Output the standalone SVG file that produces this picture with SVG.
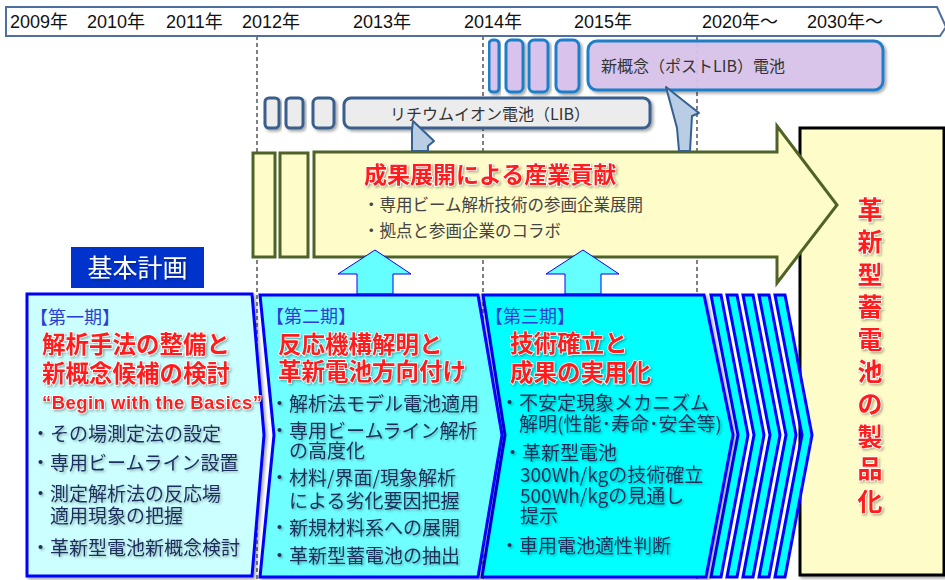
<svg xmlns="http://www.w3.org/2000/svg" width="945" height="580" viewBox="0 0 945 580">
<defs>
<filter id="sh" x="-10%" y="-10%" width="130%" height="130%"><feDropShadow dx="2" dy="2" stdDeviation="1.5" flood-color="#000" flood-opacity="0.35"/></filter>
<filter id="ts" x="-10%" y="-20%" width="130%" height="150%"><feDropShadow dx="1.5" dy="1.5" stdDeviation="1" flood-color="#000" flood-opacity="0.3"/></filter>
<style>
.yr{font-family:'Liberation Sans','Noto Sans CJK JP',sans-serif;font-size:18px;fill:#111}
.jp{font-family:'Noto Sans CJK JP',sans-serif}
.dash{stroke:#000;stroke-width:1;stroke-dasharray:4 3;fill:none}
.pur{fill:#d9c3ec;stroke:#1f7fc8;stroke-width:3;filter:url(#sh)}
.gry{fill:#ececec;stroke:#3b5e8c;stroke-width:3;filter:url(#sh)}
.call{fill:#b9cde5;stroke:#35608f;stroke-width:2;stroke-linejoin:round}
.yel{fill:#fefcc8;stroke:#4f6228;stroke-width:3}
.up{fill:#66ffff;stroke:#0000ff;stroke-width:1}
.box{stroke:#0000ff;stroke-width:3;filter:url(#sh)}
.stripe{fill:#00ffff;stroke:#0000ff;stroke-width:3}
.red{font-family:'Noto Sans CJK JP',sans-serif;font-weight:700;fill:#ff1f1f;stroke:#ffffff;stroke-width:1.5;paint-order:stroke;filter:url(#ts)}
.phase{font-family:'Noto Sans CJK JP',sans-serif;font-size:18px;fill:#2b3fd6}
.bul{font-family:'Noto Sans CJK JP',sans-serif;font-size:19px;fill:#1c2f5c;filter:url(#ts)}
.ytx{font-family:'Noto Sans CJK JP',sans-serif;font-size:16.5px;fill:#444}
</style>
</defs>

<g id="guides">
<line class="dash" x1="257" y1="36" x2="257" y2="580"/>
<line class="dash" x1="483" y1="36" x2="483" y2="580"/>
<line class="dash" x1="697" y1="36" x2="697" y2="580"/>
</g>

<g id="timeline">
<polygon points="6,7 937,7 946,27 940,36 6,36" fill="#fff" stroke="#4f6fa0" stroke-width="2"/>
<text class="yr" x="10" y="28">2009年</text>
<text class="yr" x="87" y="28">2010年</text>
<text class="yr" x="166" y="28">2011年</text>
<text class="yr" x="242" y="28">2012年</text>
<text class="yr" x="353" y="28">2013年</text>
<text class="yr" x="464" y="28">2014年</text>
<text class="yr" x="574" y="28">2015年</text>
<text class="yr" x="702" y="28">2020年～</text>
<text class="yr" x="807" y="28">2030年～</text>
</g>

<g id="post-lib">
<rect class="pur" x="489" y="40" width="10" height="52" rx="4"/>
<rect class="pur" x="506" y="40" width="17" height="52" rx="5"/>
<rect class="pur" x="529" y="40" width="19" height="52" rx="5"/>
<rect class="pur" x="556" y="40" width="23" height="52" rx="6"/>
<rect class="pur" x="588" y="41" width="295" height="49" rx="9" fill-opacity="0.93"/>
<text class="jp" x="601" y="72" font-size="16" fill="#333">新概念（ポストLIB）電池</text>
</g>

<g id="lib">
<rect class="gry" x="265" y="98" width="14" height="30" rx="4"/>
<rect class="gry" x="286" y="98" width="17" height="30" rx="4"/>
<rect class="gry" x="313" y="98" width="21" height="30" rx="5"/>
<rect class="gry" x="344" y="98" width="306" height="30" rx="7"/>
<text class="jp" x="390" y="120" font-size="16" fill="#333">リチウムイオン電池（LIB）</text>
</g>

<g id="product">
<rect x="800" y="128" width="144" height="447" fill="#fefcc8" stroke="#000" stroke-width="3" filter="url(#sh)"/>
<text class="red" font-size="25" text-anchor="middle"><tspan x="870" y="219">革</tspan><tspan x="870" dy="32.4">新</tspan><tspan x="870" dy="32.4">型</tspan><tspan x="870" dy="32.4">蓄</tspan><tspan x="870" dy="32.4">電</tspan><tspan x="870" dy="32.4">池</tspan><tspan x="870" dy="32.4">の</tspan><tspan x="870" dy="32.4">製</tspan><tspan x="870" dy="32.4">品</tspan><tspan x="870" dy="32.4">化</tspan></text>
</g>

<g id="industry">
<rect class="yel" x="253" y="153" width="22" height="104"/>
<rect class="yel" x="280" y="153" width="28" height="104"/>
<polygon class="yel" points="314,152 777,152 777,126 837,205 777,283 777,257 314,257"/>
<text class="red" x="364" y="183" font-size="23">成果展開による産業貢献</text>
<text class="ytx" x="363" y="211">・専用ビーム解析技術の参画企業展開</text>
<text class="ytx" x="363" y="237">・拠点と参画企業のコラボ</text>
</g>

<g id="connectors">
<polygon class="call" points="413,121 434,141 428,146 428,151 412,151 412,130"/>
<polygon class="call" points="666,87 699,113 692,116 690,151 679,151 677,128"/>
<polygon class="up" points="375,250 411,274 393,274 393,294 357,294 357,274 338,274"/>
<polygon class="up" points="583,250 619,274 601,274 601,294 565,294 565,274 546,274"/>
</g>

<g id="plan-label">
<rect x="71" y="247" width="133" height="41" fill="#0033cc"/>
<text class="jp" x="137.5" y="277" font-size="25" fill="#fff" text-anchor="middle" filter="url(#ts)">基本計画</text>
</g>

<g id="stripes">
<polygon class="stripe" points="775,295 785,295 812,435 785,577 775,577 802,435"/>
<polygon class="stripe" points="759,295 769,295 796,435 769,577 759,577 786,435"/>
<polygon class="stripe" points="743,295 753,295 780,435 753,577 743,577 770,435"/>
<polygon class="stripe" points="727,295 737,295 764,435 737,577 727,577 754,435"/>
<polygon class="stripe" points="711,295 721,295 748,435 721,577 711,577 738,435"/>
</g>

<g id="phase3">
<polygon class="box" fill="#00ffff" points="483,295 704,295 733,435 706,577 482,577 505,435"/>
<text class="phase" x="485" y="323">【第三期】</text>
<text class="red" font-size="23.5"><tspan x="510" y="352">技術確立と</tspan><tspan x="510" y="381">成果の実用化</tspan></text>
<text class="bul" x="500" y="410">・不安定現象メカニズム</text>
<text class="bul" x="519" y="431">解明(性能･寿命･安全等)</text>
<text class="bul" x="503" y="460">・革新型電池</text>
<text class="bul" x="520" y="482">300Wh/kgの技術確立</text>
<text class="bul" x="520" y="503">500Wh/kgの見通し</text>
<text class="bul" x="520" y="523">提示</text>
<text class="bul" x="500" y="553">・車用電池適性判断</text>
</g>

<g id="phase2">
<polygon class="box" fill="#70ffff" points="260,295 478,295 502,435 478,577 260,577 274,435"/>
<text class="phase" x="266" y="323">【第二期】</text>
<text class="red" font-size="23.5"><tspan x="278" y="353">反応機構解明と</tspan><tspan x="278" y="380">革新電池方向付け</tspan></text>
<text class="bul" x="270" y="411">・解析法モデル電池適用</text>
<text class="bul" x="270" y="438">・専用ビームライン解析</text>
<text class="bul" x="289" y="458">の高度化</text>
<text class="bul" x="270" y="485">・材料/界面/現象解析</text>
<text class="bul" x="289" y="508">による劣化要因把握</text>
<text class="bul" x="270" y="535">・新規材料系への展開</text>
<text class="bul" x="270" y="563">・革新型蓄電池の抽出</text>
</g>

<g id="phase1">
<polygon class="box" fill="#ccffff" points="27,294 252,294 264,435 252,576 27,576"/>
<text class="phase" x="30" y="324">【第一期】</text>
<text class="red" font-size="23.5"><tspan x="42" y="353">解析手法の整備と</tspan><tspan x="42" y="382">新概念候補の検討</tspan></text>
<text class="red" x="42" y="409" font-size="18.5" textLength="220" lengthAdjust="spacing" style="font-family:'Liberation Sans','Noto Sans CJK JP',sans-serif">“Begin with the Basics”</text>
<text class="bul" x="31" y="441">・その場測定法の設定</text>
<text class="bul" x="31" y="470">・専用ビームライン設置</text>
<text class="bul" x="31" y="501">・測定解析法の反応場</text>
<text class="bul" x="50" y="523">適用現象の把握</text>
<text class="bul" x="31" y="555">・革新型電池新概念検討</text>
</g>
</svg>
